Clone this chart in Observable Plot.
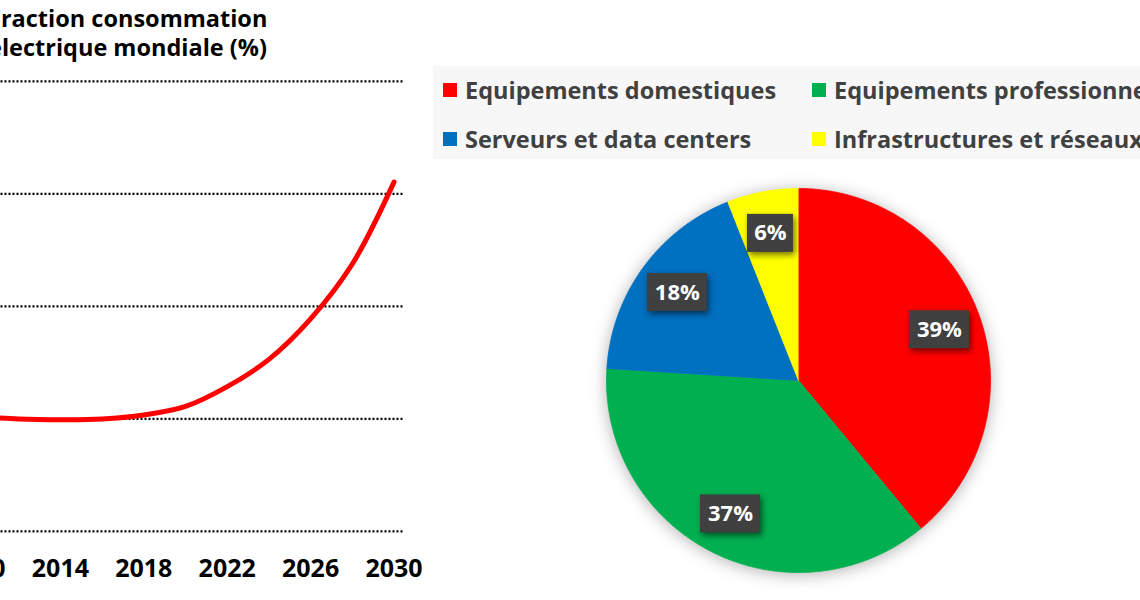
<!DOCTYPE html>
<html><head><meta charset="utf-8">
<script src="https://cdn.jsdelivr.net/npm/d3@7"></script>
<script src="https://cdn.jsdelivr.net/npm/@observablehq/plot@0.6"></script>
<style>
html,body{margin:0;padding:0;background:#fff;}
#root{position:relative;width:1140px;height:600px;overflow:hidden;font-family:"Open Sans",sans-serif;}
.tline{position:absolute;left:-12px;height:26px;line-height:26px;font-weight:700;font-size:23.5px;color:#000;white-space:nowrap;}
#line{position:absolute;left:-100px;top:0;}
#legend{position:absolute;left:433px;top:66px;width:760px;height:93px;background:#f7f7f7;}
.item{position:absolute;height:30px;line-height:30px;font-weight:700;font-size:23.5px;color:#404040;white-space:nowrap;display:flex;align-items:center;}
.sw{width:14px;height:14px;margin-right:8px;flex:none;}
#pie{position:absolute;left:578px;top:160px;}
#pie g[aria-label="line"]{filter:drop-shadow(0 2px 8px rgba(0,0,0,0.3));}
#pie g[aria-label="rect"]{filter:drop-shadow(2px 3px 3px rgba(0,0,0,0.55));}
</style></head>
<body>
<div id="root">
  <div class="tline" style="top:4.6px">Fraction consommation</div>
  <div class="tline" style="top:33.6px">électrique mondiale (%)</div>
  <div id="line"></div>
  <div id="legend"></div>
  <div id="pie"></div>
</div>
<script>
// ---- Line chart data ----
const years = [2010, 2012, 2014, 2016, 2018, 2020, 2022, 2024, 2026, 2028, 2030];
const share = [5.1, 4.99, 4.96, 4.99, 5.17, 5.55, 6.43, 7.64, 9.44, 11.88, 15.52];
const xTicks = [2010, 2014, 2018, 2022, 2026, 2030];
const yTicks = [0, 5, 10, 15, 20];

// ---- Pie data ----
const categories = ["Equipements domestiques", "Equipements professionnels", "Serveurs et data centers", "Infrastructures et réseaux"];
const shares = [39, 37, 18, 6];
const colors = ["#ff0000", "#00b050", "#0070c0", "#ffff00"];

// Line chart
const lineData = years.map((y, i) => ({year: y, share: share[i]}));
const lineSvg = Plot.plot({
  width: 560, height: 600,
  marginLeft: 76.5, marginRight: 66.5, marginTop: 80.8, marginBottom: 69.2,
  style: {fontFamily: "Open Sans", fontSize: "25px", fontWeight: 700, color: "#000", background: "transparent"},
  x: {domain: [2010, 2030], ticks: xTicks, tickFormat: d => String(d), tickSize: 0, tickPadding: 28, label: null},
  y: {domain: [0, 20], ticks: yTicks, axis: null},
  marks: [
    Plot.gridY(yTicks, {stroke: "#000", strokeOpacity: 1, strokeWidth: 2.2, strokeDasharray: "2 2", insetLeft: -80, insetRight: -9}),
    Plot.line(lineData, {x: "year", y: "share", stroke: "#ff0000", strokeWidth: 5, curve: "catmull-rom", strokeLinecap: "round"})
  ]
});
document.getElementById("line").appendChild(lineSvg);

// Legend
const legend = document.getElementById("legend");
const pos = [[10, 9], [379, 9], [10, 58], [379, 58]];
categories.forEach((c, i) => {
  const it = document.createElement("div");
  it.className = "item";
  it.style.left = pos[i][0] + "px";
  it.style.top = pos[i][1] + "px";
  it.innerHTML = `<span class="sw" style="background:${colors[i]}"></span>${c}`;
  legend.appendChild(it);
});

// Pie chart
const pieArcs = d3.pie().sort(null).value(d => d)(shares);
const arcPts = [];
const labels = [];
const R = 192, half = 220 / R;
pieArcs.forEach((p, i) => {
  const cat = categories[i];
  arcPts.push({cat, x: 0, y: 0});
  const n = Math.max(2, Math.ceil((p.endAngle - p.startAngle) / (Math.PI / 360)));
  for (let k = 0; k <= n; k++) {
    const a = p.startAngle + (p.endAngle - p.startAngle) * k / n;
    arcPts.push({cat, x: Math.sin(a), y: Math.cos(a)});
  }
  const mid = (p.startAngle + p.endAngle) / 2;
  const lr = 0.78;
  const text = shares[i] + "%";
  const lx = lr * Math.sin(mid), ly = lr * Math.cos(mid);
  const hw = (14 * text.length + 18) / 2 / R, hh = 19 / R;
  labels.push({text, x: lx, y: ly, x1: lx - hw, x2: lx + hw, y1: ly - hh, y2: ly + hh});
});
const pieSvg = Plot.plot({
  width: 440, height: 440, margin: 0,
  style: {fontFamily: "Open Sans", background: "transparent"},
  x: {domain: [-half, half], axis: null},
  y: {domain: [-half, half], axis: null},
  color: {domain: categories, range: colors},
  marks: [
    Plot.line(arcPts, {x: "x", y: "y", z: "cat", fill: "cat", stroke: "cat", strokeWidth: 0.8, curve: "linear"}),
    Plot.rect(labels, {x1: "x1", x2: "x2", y1: "y1", y2: "y2", fill: "#404040"}),
    Plot.text(labels, {x: "x", y: "y", text: "text", fill: "#fff", fontSize: 22, fontWeight: 700})
  ]
});
document.getElementById("pie").appendChild(pieSvg);
</script>
</body></html>
